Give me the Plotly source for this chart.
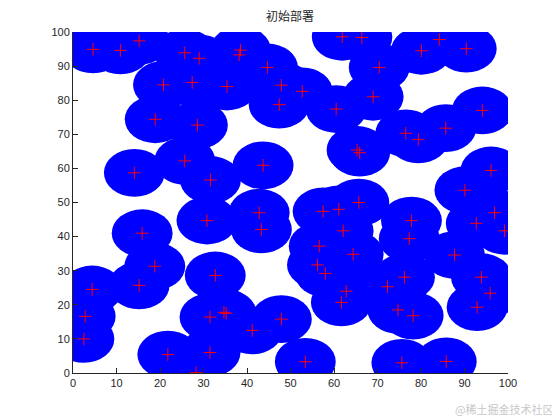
import plotly.graph_objects as go

# Node positions
node_x = [4.6, 10.9, 15.2, 25.7, 29.0, 20.8, 27.4, 18.9, 28.6, 25.7, 14.1, 31.6,
          38.5, 38.2, 44.7, 35.4, 47.9, 52.7, 47.4, 61.9, 66.4, 60.5, 43.7, 65.3,
          65.9, 65.7, 84.2, 80.1, 90.4, 70.4, 69.0, 94.1, 85.7, 76.5, 79.4, 96.1,
          90.1, 30.8, 15.9, 18.8, 15.2, 4.4, 2.8, 2.5, 32.7, 31.5, 31.5, 21.8,
          28.3, 42.8, 43.3, 57.5, 61.1, 62.1, 56.6, 64.4, 56.2, 58.0, 62.8, 61.7,
          34.7, 35.2, 47.9, 41.2, 53.4, 96.9, 92.7, 99.2, 77.8, 77.3, 87.7, 76.2,
          72.3, 93.9, 95.9, 92.9, 74.7, 78.2, 75.6, 85.8]
node_y = [94.9, 94.6, 97.4, 93.9, 92.3, 84.5, 85.2, 74.4, 72.7, 62.2, 58.7, 56.6,
          94.7, 93.3, 89.6, 84.0, 84.4, 82.6, 78.7, 98.6, 98.4, 77.4, 60.9, 65.4,
          64.6, 50.0, 97.8, 94.5, 95.1, 89.6, 81.0, 77.0, 71.8, 70.3, 68.5, 59.4,
          53.6, 44.7, 41.0, 31.3, 25.7, 24.5, 16.6, 10.0, 28.6, 16.4, 6.0, 5.4,
          0.1, 47.0, 42.1, 47.4, 48.0, 41.7, 37.2, 34.8, 31.7, 29.2, 24.0, 20.7,
          17.8, 17.5, 15.8, 12.5, 3.3, 47.0, 43.9, 41.7, 44.7, 39.4, 34.6, 28.1,
          25.3, 28.1, 23.4, 19.3, 18.5, 16.8, 3.0, 3.4]
sense_radius = 7
tick_vals = [0, 10, 20, 30, 40, 50, 60, 70, 80, 90, 100]
title_text = "初始部署"
watermark = "@稀土掘金技术社区"

fig = go.Figure()

shapes = []
for cx, cy in zip(node_x, node_y):
    shapes.append(dict(type="circle", xref="x", yref="y",
                       x0=cx - sense_radius, x1=cx + sense_radius,
                       y0=cy - sense_radius, y1=cy + sense_radius,
                       fillcolor="#0000ff", line=dict(width=0), layer="below"))

fig.add_trace(go.Scatter(x=node_x, y=node_y, mode="markers",
                         marker=dict(symbol="cross-thin", size=9,
                                     line=dict(color="#ff0000", width=1)),
                         hoverinfo="skip", showlegend=False, cliponaxis=True))

axis_style = dict(range=[0, 100], tickvals=tick_vals, showgrid=False, zeroline=False,
                  showline=True, linecolor="#262626", linewidth=1,
                  ticks="inside", ticklen=5, tickcolor="#262626",
                  tickfont=dict(family="Liberation Sans, Arial", size=11, color="#262626"),
                  mirror=False, fixedrange=True, automargin=False)

fig.update_layout(
    width=552, height=412,
    margin=dict(l=65, r=52, t=24, b=47, autoexpand=False),
    paper_bgcolor="white", plot_bgcolor="white",
    shapes=shapes,
    xaxis=axis_style, yaxis=axis_style,
    title=dict(text=title_text, x=0.511, xanchor="center", y=0.978, yanchor="middle",
               font=dict(family="Noto Sans CJK SC", size=12, color="#262626")),
    annotations=[dict(text=watermark, xref="paper", yref="paper", x=1.108, y=-0.105,
                      xanchor="right", yanchor="middle", showarrow=False,
                      font=dict(family="Noto Sans CJK SC", size=11, color="#c8c8c8"))],
)

fig.write_html("out.html")
